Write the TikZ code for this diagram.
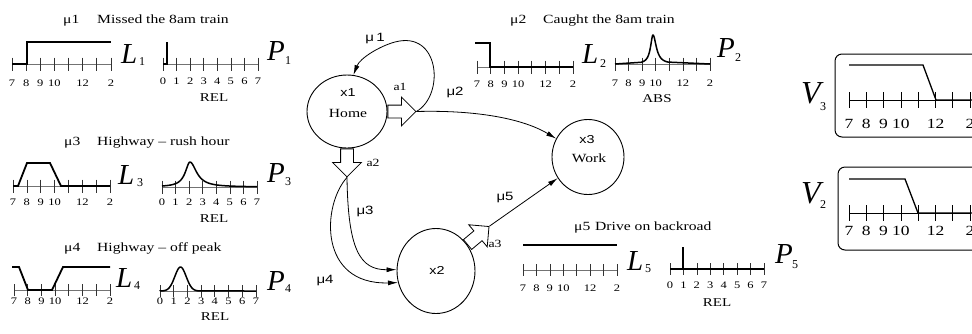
\documentclass[tikz,border=0pt]{standalone}
\usepackage{fontspec}
\usepackage{graphicx}
\setmainfont{Liberation Serif}
\setsansfont{Liberation Sans}
\newfontfamily\bigfont{Liberation Serif}
\usetikzlibrary{shapes.geometric,shapes.arrows,arrows.meta}

\newcommand\sx[1]{\scalebox{1.25}[1]{#1}}
\newcommand\hticks[5]{%
  \draw[axisline,#5] (#1,#2) -- ({#1+7*#3},#2);
  \foreach \i in {0,...,7}{\draw[tickline,#5] ({#1+\i*#3},{#2-#4}) -- ({#1+\i*#3},{#2+#4});}
}
\newcommand\timelbls[5]{%
  \foreach \i/\lab in {0/7,1/8,2/9,3/10,5/12,7/2}{\node[#5,anchor=base] (#1\i) at ({#2+\i*#4},#3) {\sx{\lab}};}
}
\newcommand\rellbls[5]{%
  \foreach \i in {0,...,7}{\node[#5,anchor=base] (#1\i) at ({#2+\i*#4},#3) {\sx{\i}};}
}

\tikzset{
  axisline/.style={draw=black!55, line width=0.9pt},
  tickline/.style={draw=black!80, line width=0.7pt},
  curve/.style={line width=1.8pt, line join=miter},
  vcurve/.style={line width=1.3pt},
  ticklbl/.style={font=\fontsize{10}{10}\selectfont, inner sep=0pt},
  vticklbl/.style={font=\fontsize{14}{14}\selectfont, inner sep=0pt},
  ttl/.style={font=\fontsize{12.5}{13}\selectfont, inner sep=0pt, anchor=base west},
  unitlbl/.style={font=\fontsize{12}{12}\selectfont, inner sep=0pt, anchor=base},
  bigL/.style={font=\bigfont\itshape\fontsize{29}{29}\selectfont, inner sep=0pt, anchor=base west},
  bigV/.style={font=\bigfont\itshape\fontsize{32}{32}\selectfont, inner sep=0pt, anchor=base west},
  subn/.style={font=\bigfont\fontsize{12}{12}\selectfont, inner sep=0pt, anchor=base west},
  state/.style={ellipse, draw, line width=0.9pt, inner sep=0pt},
  statetxt/.style={font=\sffamily\fontsize{11.5}{12}\selectfont, inner sep=0pt},
  statename/.style={font=\fontsize{12.5}{13}\selectfont, inner sep=0pt},
  act/.style={single arrow, draw, fill=white, line width=0.8pt, inner sep=6pt,
    single arrow head extend=8pt, minimum height=28pt, anchor=tail},
  actlbl/.style={font=\fontsize{11}{11}\selectfont, inner sep=0pt},
  mulbl/.style={font=\sffamily\fontsize{12}{12}\selectfont, inner sep=0pt},
  conn/.style={line width=0.8pt, -{Latex[length=10pt,width=5pt]}},
  vbox/.style={draw, line width=1pt, rounded corners=7pt},
}

\begin{document}
\begin{tikzpicture}[x=1pt,y=-1pt]
\path[use as bounding box] (0,0) rectangle (972,333);
\clip (0,0) rectangle (972,333);

% ---------- mu1 panel
\node[ttl] (m1mu) at (63,23) {\sx{μ1}};
\node[ttl] (m1t) at (97,23) {\sx{Missed the 8am train}};
\hticks{12}{64}{14.14}{6.5}{}
\timelbls{L1t}{12}{86}{14.14}{ticklbl}
\draw[curve] (12,64) -- (27,64) -- (27,42) -- (111,42);
\node[bigL] (L1) at (121,63) {L};
\node[subn] (L1s) at (139,65) {1};
\hticks{163}{64}{13.57}{6.5}{}
\rellbls{P1t}{163}{84}{13.57}{ticklbl}
\node[unitlbl] (P1u) at (214,101) {\sx{REL}};
\draw[curve] (163,64) -- (167,64) -- (167,42);
\node[bigL] (P1) at (267,60) {P};
\node[subn] (P1s) at (285,64) {1};

% ---------- mu3 panel
\node[ttl] (m3mu) at (64,145) {\sx{μ3}};
\node[ttl] (m3t) at (97,145) {\sx{Highway – rush hour}};
\hticks{13}{186}{13.86}{6.5}{}
\timelbls{L3t}{13}{205}{13.86}{ticklbl}
\draw[curve] (13,186) -- (18,186) -- (27,163) -- (50,163) -- (61,186) -- (110,186);
\node[bigL] (L3) at (118,184) {L};
\node[subn] (L3s) at (137,186) {3};
\hticks{162}{187}{13.57}{6.5}{}
\rellbls{P3t}{162}{205}{13.57}{ticklbl}
\node[unitlbl] (P3u) at (214,222) {\sx{REL}};
\draw[curve, line width=1.5pt] plot[domain=162:190,samples=40] (\x,{187-25/(1+((\x-190)/5.7)^2)})
  -- plot[domain=190:257,samples=60] (\x,{187-25/(1+((\x-190)/8)^2)});
\node[bigL] (P3) at (267,182) {P};
\node[subn] (P3s) at (285,185) {3};

% ---------- mu4 panel
\node[ttl] (m4mu) at (64,251) {\sx{μ4}};
\node[ttl] (m4t) at (97,251) {\sx{Highway – off peak}};
\hticks{14}{290}{13.71}{6}{}
\timelbls{L4t}{14}{304}{13.71}{ticklbl}
\draw[curve] (12,267) -- (19,267) -- (28,290) -- (52,290) -- (63,267) -- (110,267);
\node[bigL] (L4) at (116,287) {L};
\node[subn] (L4s) at (134,289) {4};
\hticks{160}{291}{13.71}{6}{}
\rellbls{P4t}{160}{304}{13.71}{ticklbl}
\node[unitlbl] (P4u) at (215,320) {\sx{REL}};
\draw[curve, line width=1.5pt] (160,291) -- plot[domain=160:201,samples=50] (\x,{291-24*exp(-(((\x-180.5)/8)^2))}) -- (256,291);
\node[bigL] (P4) at (267,290) {P};
\node[subn] (P4s) at (285,292) {4};

% ---------- mu2 panel
\node[ttl] (m2mu) at (510,23) {\sx{μ2}};
\node[ttl] (m2t) at (543,23) {\sx{Caught the 8am train}};
\hticks{477}{67}{13.71}{6.5}{}
\timelbls{L2t}{477}{87}{13.71}{ticklbl}
\draw[curve] (475,43) -- (490,43) -- (490,67) -- (573,67);
\node[bigL] (L2) at (582,63) {L};
\node[subn] (L2s) at (600,67) {2};
\hticks{615}{64}{13.57}{6.5}{}
\timelbls{P2t}{615}{86}{13.57}{ticklbl}
\node[unitlbl] (P2u) at (657,102) {\sx{ABS}};
\draw[curve, line width=1.5pt] (615,64) -- plot[domain=641:653,samples=40] (\x,{64-29/(1+((\x-653)/3)^2)})
  -- plot[domain=653:668,samples=40] (\x,{64-29/(1+((\x-653)/4)^2)}) -- (710,64);
\node[bigL] (P2) at (717,57) {P};
\node[subn] (P2s) at (735,61) {2};

% ---------- mu5 panel
\node[ttl] (m5mu) at (574,230) {\sx{μ5}};
\node[ttl] (m5t) at (595,230) {\sx{Drive on backroad}};
\draw[curve] (523,245) -- (617,245);
\hticks{523}{270}{13.43}{6}{}
\timelbls{L5t}{523}{291}{13.43}{ticklbl}
\node[bigL] (L5) at (627,270) {L};
\node[subn] (L5s) at (645,272) {5};
\hticks{670}{269}{13.43}{6}{}
\rellbls{P5t}{670}{288}{13.43}{ticklbl}
\node[unitlbl] (P5u) at (717,306) {\sx{REL}};
\draw[curve] (670,269) -- (764,269);
\draw[curve] (683,269) -- (683,247);
\node[bigL] (P5) at (775,263) {P};
\node[subn] (P5s) at (792,268) {5};

% ---------- V3 / V2 boxes
\draw[vbox] (835,54) rectangle (995,137);
\hticks{849}{100}{17.3}{8}{draw=black, line width=0.8pt}
\timelbls{V3t}{849}{128}{17.3}{vticklbl}
\draw[vcurve] (849,65) -- (923,65) -- (936,100) -- (995,100);
\node[bigV] (V3) at (801,103) {V};
\node[subn] (V3s) at (820,110) {3};

\draw[vbox] (838,167) rectangle (995,250);
\hticks{849}{213}{17.3}{8}{draw=black, line width=0.8pt}
\timelbls{V2t}{849}{235}{17.3}{vticklbl}
\draw[vcurve] (849,179) -- (905,179) -- (918,213) -- (995,213);
\node[bigV] (V2) at (801,203) {V};
\node[subn] (V2s) at (820,208) {2};

% ---------- state graph
\node[state, minimum width=80pt, minimum height=73pt] (x1) at (347,111.5) {};
\node[statetxt] (x1a) at (348,93) {\sx{x1}};
\node[statename] (x1b) at (348,113) {\sx{Home}};
\node[state, minimum width=78pt, minimum height=85pt] (x2) at (436,271) {};
\node[statetxt] (x2a) at (437,270) {\sx{x2}};
\node[state, minimum width=72pt, minimum height=75pt] (x3) at (588,157) {};
\node[statetxt] (x3a) at (587,140) {\sx{x3}};
\node[statename] (x3b) at (589,158) {\sx{Work}};

\node[act] (a1) at (x1.east) {};
\node[act, rotate=-90] (a2) at (x1.south) {};
\node[act, rotate=40] (a3) at (x2.40) {};
\node[actlbl] (a1l) at (400,87) {\sx{a1}};
\node[actlbl] (a2l) at (373,163) {\sx{a2}};
\node[actlbl] (a3l) at (495,244) {\sx{a3}};

\draw[conn] (a1.tip) .. controls (445,95) and (440,30) .. (395,42) .. controls (380,46) and (360,58) .. (x1.80);
\draw[conn] (a1.tip) .. controls (470,110) and (520,117) .. (x3.150);
\draw[conn] (a2.tip) .. controls (348,250) and (360,270) .. (x2.178);
\draw[conn] (a2.tip) .. controls (322,205) and (318,285) .. (x2.197);
\draw[conn] (a3.tip) -- (x3.215);

\node[mulbl] (mu1) at (375,39) {\sx{μ\,1}};
\node[mulbl] (mu2) at (455,92) {\sx{μ2}};
\node[mulbl] (mu3) at (365,211) {\sx{μ3}};
\node[mulbl] (mu4) at (325,281) {\sx{μ4}};
\node[mulbl] (mu5) at (505,198) {\sx{μ5}};
\end{tikzpicture}
\end{document}
